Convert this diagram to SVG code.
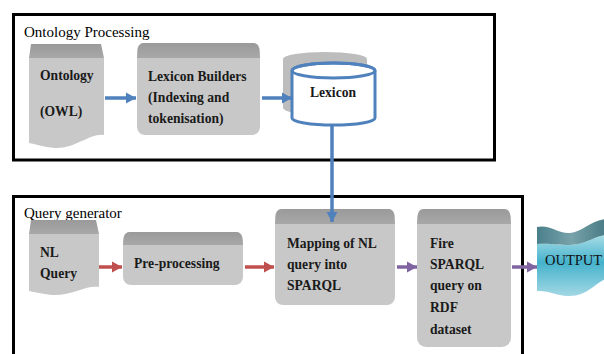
<svg xmlns="http://www.w3.org/2000/svg" width="604" height="354" viewBox="0 0 604 354">
<defs>
<style>
text{font-family:"Liberation Serif","Times New Roman",serif}
.frame{fill:none;stroke:#000;stroke-width:3}
.head{font-size:15px;fill:#000}
.lbl{font-size:13.6px;font-weight:bold;fill:#1a1a1a}
.out{font-size:14.5px;fill:#111}
.body{fill:#c8c8c8}
.band{fill:url(#bandG)}
.blue{stroke:#4f81bd;stroke-width:3.5;fill:none}
.red{stroke:#c0504d;stroke-width:3.5;fill:none}
.purple{stroke:#8064a2;stroke-width:3.5;fill:none}
</style>
<linearGradient id="bandG" x1="0" y1="0" x2="0" y2="1">
<stop offset="0" stop-color="#9a9a9a"/>
<stop offset="1" stop-color="#a8a8a8"/>
</linearGradient>
<linearGradient id="outG" x1="0" y1="0" x2="0" y2="1">
<stop offset="0" stop-color="#a8dce7"/>
<stop offset="0.45" stop-color="#45b2cc"/>
<stop offset="1" stop-color="#a3d8e4"/>
</linearGradient>
<linearGradient id="outTop" x1="0" y1="0" x2="1" y2="0">
<stop offset="0" stop-color="#4a808b"/>
<stop offset="0.5" stop-color="#78a2aa"/>
<stop offset="1" stop-color="#477b85"/>
</linearGradient>
<marker id="aBlue" markerUnits="userSpaceOnUse" markerWidth="12" markerHeight="12" refX="10" refY="6" orient="auto"><path d="M0,0.5 L10,6 L0,11.5 Z" fill="#4f81bd"/></marker>
<marker id="aRed" markerUnits="userSpaceOnUse" markerWidth="12" markerHeight="12" refX="10" refY="6" orient="auto"><path d="M0,0.5 L10,6 L0,11.5 Z" fill="#c0504d"/></marker>
<marker id="aPurple" markerUnits="userSpaceOnUse" markerWidth="12" markerHeight="12" refX="10" refY="6" orient="auto"><path d="M0,0.5 L10,6 L0,11.5 Z" fill="#8064a2"/></marker>
</defs>
<rect width="604" height="354" fill="#fff"/>

<g id="ontology-processing">
<rect class="frame" x="13.5" y="14.5" width="481" height="145.5"/>
<text class="head" x="24" y="37">Ontology Processing</text>
</g>
<g id="query-generator">
<rect class="frame" x="13.5" y="196.5" width="509" height="170"/>
<text class="head" x="24" y="218">Query generator</text>
</g>

<g id="ontology">
<path class="body" d="M29,58 L104,58 L104,135 C90,133 75,149 55,148 C43,147 35,144 29,143 Z"/>
<path class="band" d="M31,44 L101,44 L104,58 L29,58 Z"/>
<text class="lbl" x="40" y="80">Ontology</text>
<text class="lbl" x="40" y="116">(OWL)</text>
</g>

<g id="lexicon-builders">
<rect class="body" x="137" y="43" width="123" height="92" rx="8"/>
<path class="band" d="M144,43 L253,43 Q258,43 259,48 L260,58 L137,58 L138,48 Q139,43 144,43 Z"/>
<text class="lbl" x="148" y="81">Lexicon Builders</text>
<text class="lbl" x="148" y="102">(Indexing and</text>
<text class="lbl" x="148" y="123">tokenisation)</text>
</g>

<g id="lexicon">
<path d="M283,59 A42,7 0 0 1 367,59 L367,108 A42,7 0 0 1 283,108 Z" fill="#bdbdbd"/>
<path d="M292,70.5 L292,118 A41.5,7 0 0 0 375,118 L375,70.5 A41.5,7.5 0 0 0 292,70.5 Z" fill="#fff" stroke="#4f81bd" stroke-width="3"/>
<ellipse cx="333.5" cy="70.5" rx="41.5" ry="7.5" fill="none" stroke="#4f81bd" stroke-width="3"/>
<text class="lbl" x="333" y="97" text-anchor="middle">Lexicon</text>
</g>

<g id="nl-query">
<path class="body" d="M29,234 L99,234 L99,287 C85,285 72,296 52,295 C42,294 35,292 29,291 Z"/>
<path class="band" d="M31,220 L96,220 L99,234 L29,234 Z"/>
<text class="lbl" x="40" y="257">NL</text>
<text class="lbl" x="40" y="278">Query</text>
</g>

<g id="pre-processing">
<rect class="body" x="123" y="232" width="120" height="53" rx="8"/>
<path class="band" d="M130,232 L236,232 Q241,232 242,237 L243,245 L123,245 L124,237 Q125,232 130,232 Z"/>
<text class="lbl" x="134" y="268">Pre-processing</text>
</g>

<g id="mapping">
<rect class="body" x="275" y="209" width="120" height="96" rx="8"/>
<path class="band" d="M282,209 L388,209 Q393,209 394,214 L395,224 L275,224 L276,214 Q277,209 282,209 Z"/>
<text class="lbl" x="287" y="248">Mapping of NL</text>
<text class="lbl" x="287" y="269">query into</text>
<text class="lbl" x="287" y="290">SPARQL</text>
</g>

<g id="fire-sparql">
<rect class="body" x="417" y="209" width="94" height="138" rx="9"/>
<path class="band" d="M424,209 L504,209 Q509,209 510,214 L511,224 L417,224 L418,214 Q419,209 424,209 Z"/>
<text class="lbl" x="430" y="248">Fire</text>
<text class="lbl" x="430" y="269">SPARQL</text>
<text class="lbl" x="430" y="290">query on</text>
<text class="lbl" x="430" y="312">RDF</text>
<text class="lbl" x="430" y="334">dataset</text>
</g>

<g id="output">
<path d="M537,244 C550,243 557,245 570,245 C585,245 592,237 606,235 L606,279 C595,283 588,296 570,296 C556,296 548,290 537,291 Z" fill="url(#outG)"/>
<path d="M537,227 C550,224 558,234 570,233 C582,232 590,221 606,219 L606,235 C592,237 585,245 570,245 C557,245 550,243 537,244 Z" fill="url(#outTop)"/>
<text class="out" x="545" y="265">OUTPUT</text>
</g>

<g id="connectors">
<line class="blue" x1="105" y1="98" x2="136" y2="98" marker-end="url(#aBlue)"/>
<line class="blue" x1="262" y1="98" x2="292" y2="98" marker-end="url(#aBlue)"/>
<line class="blue" x1="332" y1="125" x2="332" y2="222" marker-end="url(#aBlue)"/>
<line class="red" x1="99" y1="267" x2="122" y2="267" marker-end="url(#aRed)"/>
<line class="red" x1="245" y1="267" x2="274" y2="267" marker-end="url(#aRed)"/>
<line class="purple" x1="397" y1="267" x2="417" y2="267" marker-end="url(#aPurple)"/>
<line class="purple" x1="512" y1="267" x2="537" y2="267" marker-end="url(#aPurple)"/>
</g>
</svg>
